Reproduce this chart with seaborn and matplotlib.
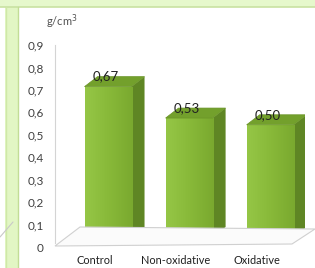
import numpy as np
import matplotlib
matplotlib.use("Agg")
import matplotlib.pyplot as plt
import matplotlib.transforms as mtransforms
from matplotlib.patches import Polygon, Rectangle
from matplotlib.lines import Line2D
from matplotlib.colors import LinearSegmentedColormap
import seaborn as sns

categories = ["Control", "Non-oxidative", "Oxidative"]
values = [0.67, 0.53, 0.50]
value_labels = ["0,67", "0,53", "0,50"]
yticks = [0, 0.1, 0.2, 0.3, 0.4, 0.5, 0.6, 0.7, 0.8, 0.9]
ytick_labels = ["0", "0,1", "0,2", "0,3", "0,4", "0,5", "0,6", "0,7", "0,8", "0,9"]
unit_label = "g/cm$^3$"

sns.set_style("white")
plt.rcParams["font.family"] = ["Lato", "DejaVu Sans"]

W, H = 315, 268
fig = plt.figure(figsize=(W / 100, H / 100), dpi=100)
fig.patch.set_facecolor("white")

def px(x, y):
    return (x / W, 1 - y / H)

# decorative frame pieces (slide background)
fig.patches.append(Rectangle((0, 1 - 7 / H), 1, 7 / H, transform=fig.transFigure,
                             facecolor="#e6f8cc", edgecolor="none", zorder=0))
fig.add_artist(Line2D([0, 1], [1 - 6.5 / H] * 2, transform=fig.transFigure,
                      color="#c9e2a2", lw=1.2))
fig.patches.append(Rectangle((5 / W, 0), 13 / W, 1 - 7 / H, transform=fig.transFigure,
                             facecolor="#e2f6c4", edgecolor="none", zorder=0))
for xx, c in [(5.5, "#cfe8a8"), (17.5, "#c2dd96")]:
    fig.add_artist(Line2D([xx / W] * 2, [0, 1 - 7 / H], transform=fig.transFigure,
                          color=c, lw=1))
x1, y1 = px(0, 237); x2, y2 = px(13, 222)
fig.add_artist(Line2D([x1, x2], [y1, y2], transform=fig.transFigure, color="#c8c8c8", lw=0.8))

ax = fig.add_axes([55 / W, 21 / H, 250 / W, 202 / H])
ax.set_facecolor("none")

front = "#8cbd3a"
side = "#5f8624"
top = "#73a02c"

sns.barplot(x=categories, y=values, color=front, width=0.58, saturation=1,
            ax=ax, edgecolor="none", zorder=3)

xlim = (-0.654, 2.43)
ylim = (0, 0.9)
ax.set_xlim(*xlim)
ax.set_ylim(*ylim)

# floor (3D look)
floor_pts = [px(55, 246), px(292, 244), px(315, 229), px(80, 227)]
fig.patches.append(Polygon(floor_pts, closed=True, transform=fig.transFigure,
                           facecolor="#fbfbfb", edgecolor="#d0d0d0", lw=0.8, zorder=1))

T = mtransforms.offset_copy(ax.transData, fig=fig, x=0, y=10, units="dots")
T_lab = mtransforms.offset_copy(ax.transData, fig=fig, x=0, y=16, units="dots")
dx = 13 / 81.0
dy = 10 / (202 / 0.9)

grad = np.linspace(0, 1, 64).reshape(1, -1)
cm = LinearSegmentedColormap.from_list("g", ["#95c646", "#88b939", "#7aa92f"])

for p, lab in zip(ax.patches, value_labels):
    x0, w, h = p.get_x(), p.get_width(), p.get_height()
    p.set_transform(T)
    im = ax.imshow(grad, extent=[x0, x0 + w, 0, h], transform=T, aspect="auto",
                   cmap=cm, zorder=3.5)
    im.set_clip_path(p)
    ax.add_patch(Polygon([(x0 + w, 0), (x0 + w, h), (x0 + w + dx, h + dy), (x0 + w + dx, dy)],
                         closed=True, transform=T, facecolor=side, edgecolor="none", zorder=3.4))
    ax.add_patch(Polygon([(x0, h), (x0 + w, h), (x0 + w + dx, h + dy), (x0 + dx, h + dy)],
                         closed=True, transform=T, facecolor=top, edgecolor="#6a9428",
                         lw=0.5, zorder=3.6))
    ax.text(x0 + w / 2 - 0.03, h, lab, transform=T_lab, ha="center", va="baseline",
            fontsize=9.5, color="#222222", zorder=5)

ax.set_xlim(*xlim)
ax.set_ylim(*ylim)
ax.set_yticks(yticks)
ax.set_yticklabels(ytick_labels)
ax.tick_params(axis="y", length=0, pad=8, labelsize=8.5, labelcolor="#404040")
ax.tick_params(axis="x", length=0, pad=6, labelsize=7.9, labelcolor="#202020")
shift = mtransforms.ScaledTranslation(-13 / 100, 0, fig.dpi_scale_trans)
for lbl in ax.get_xticklabels():
    lbl.set_transform(lbl.get_transform() + shift)
ax.set_xlabel("")
ax.set_ylabel("")
for s in ["top", "right", "bottom"]:
    ax.spines[s].set_visible(False)
ax.spines["left"].set_color("#d4d4d4")
ax.spines["left"].set_linewidth(0.8)
ax.spines["left"].set_bounds(0.02, 0.9)

fig.text(46 / W, 1 - 22 / H, unit_label, ha="left", va="center", fontsize=8, color="#505050")

fig.savefig("out.png", dpi=100)
